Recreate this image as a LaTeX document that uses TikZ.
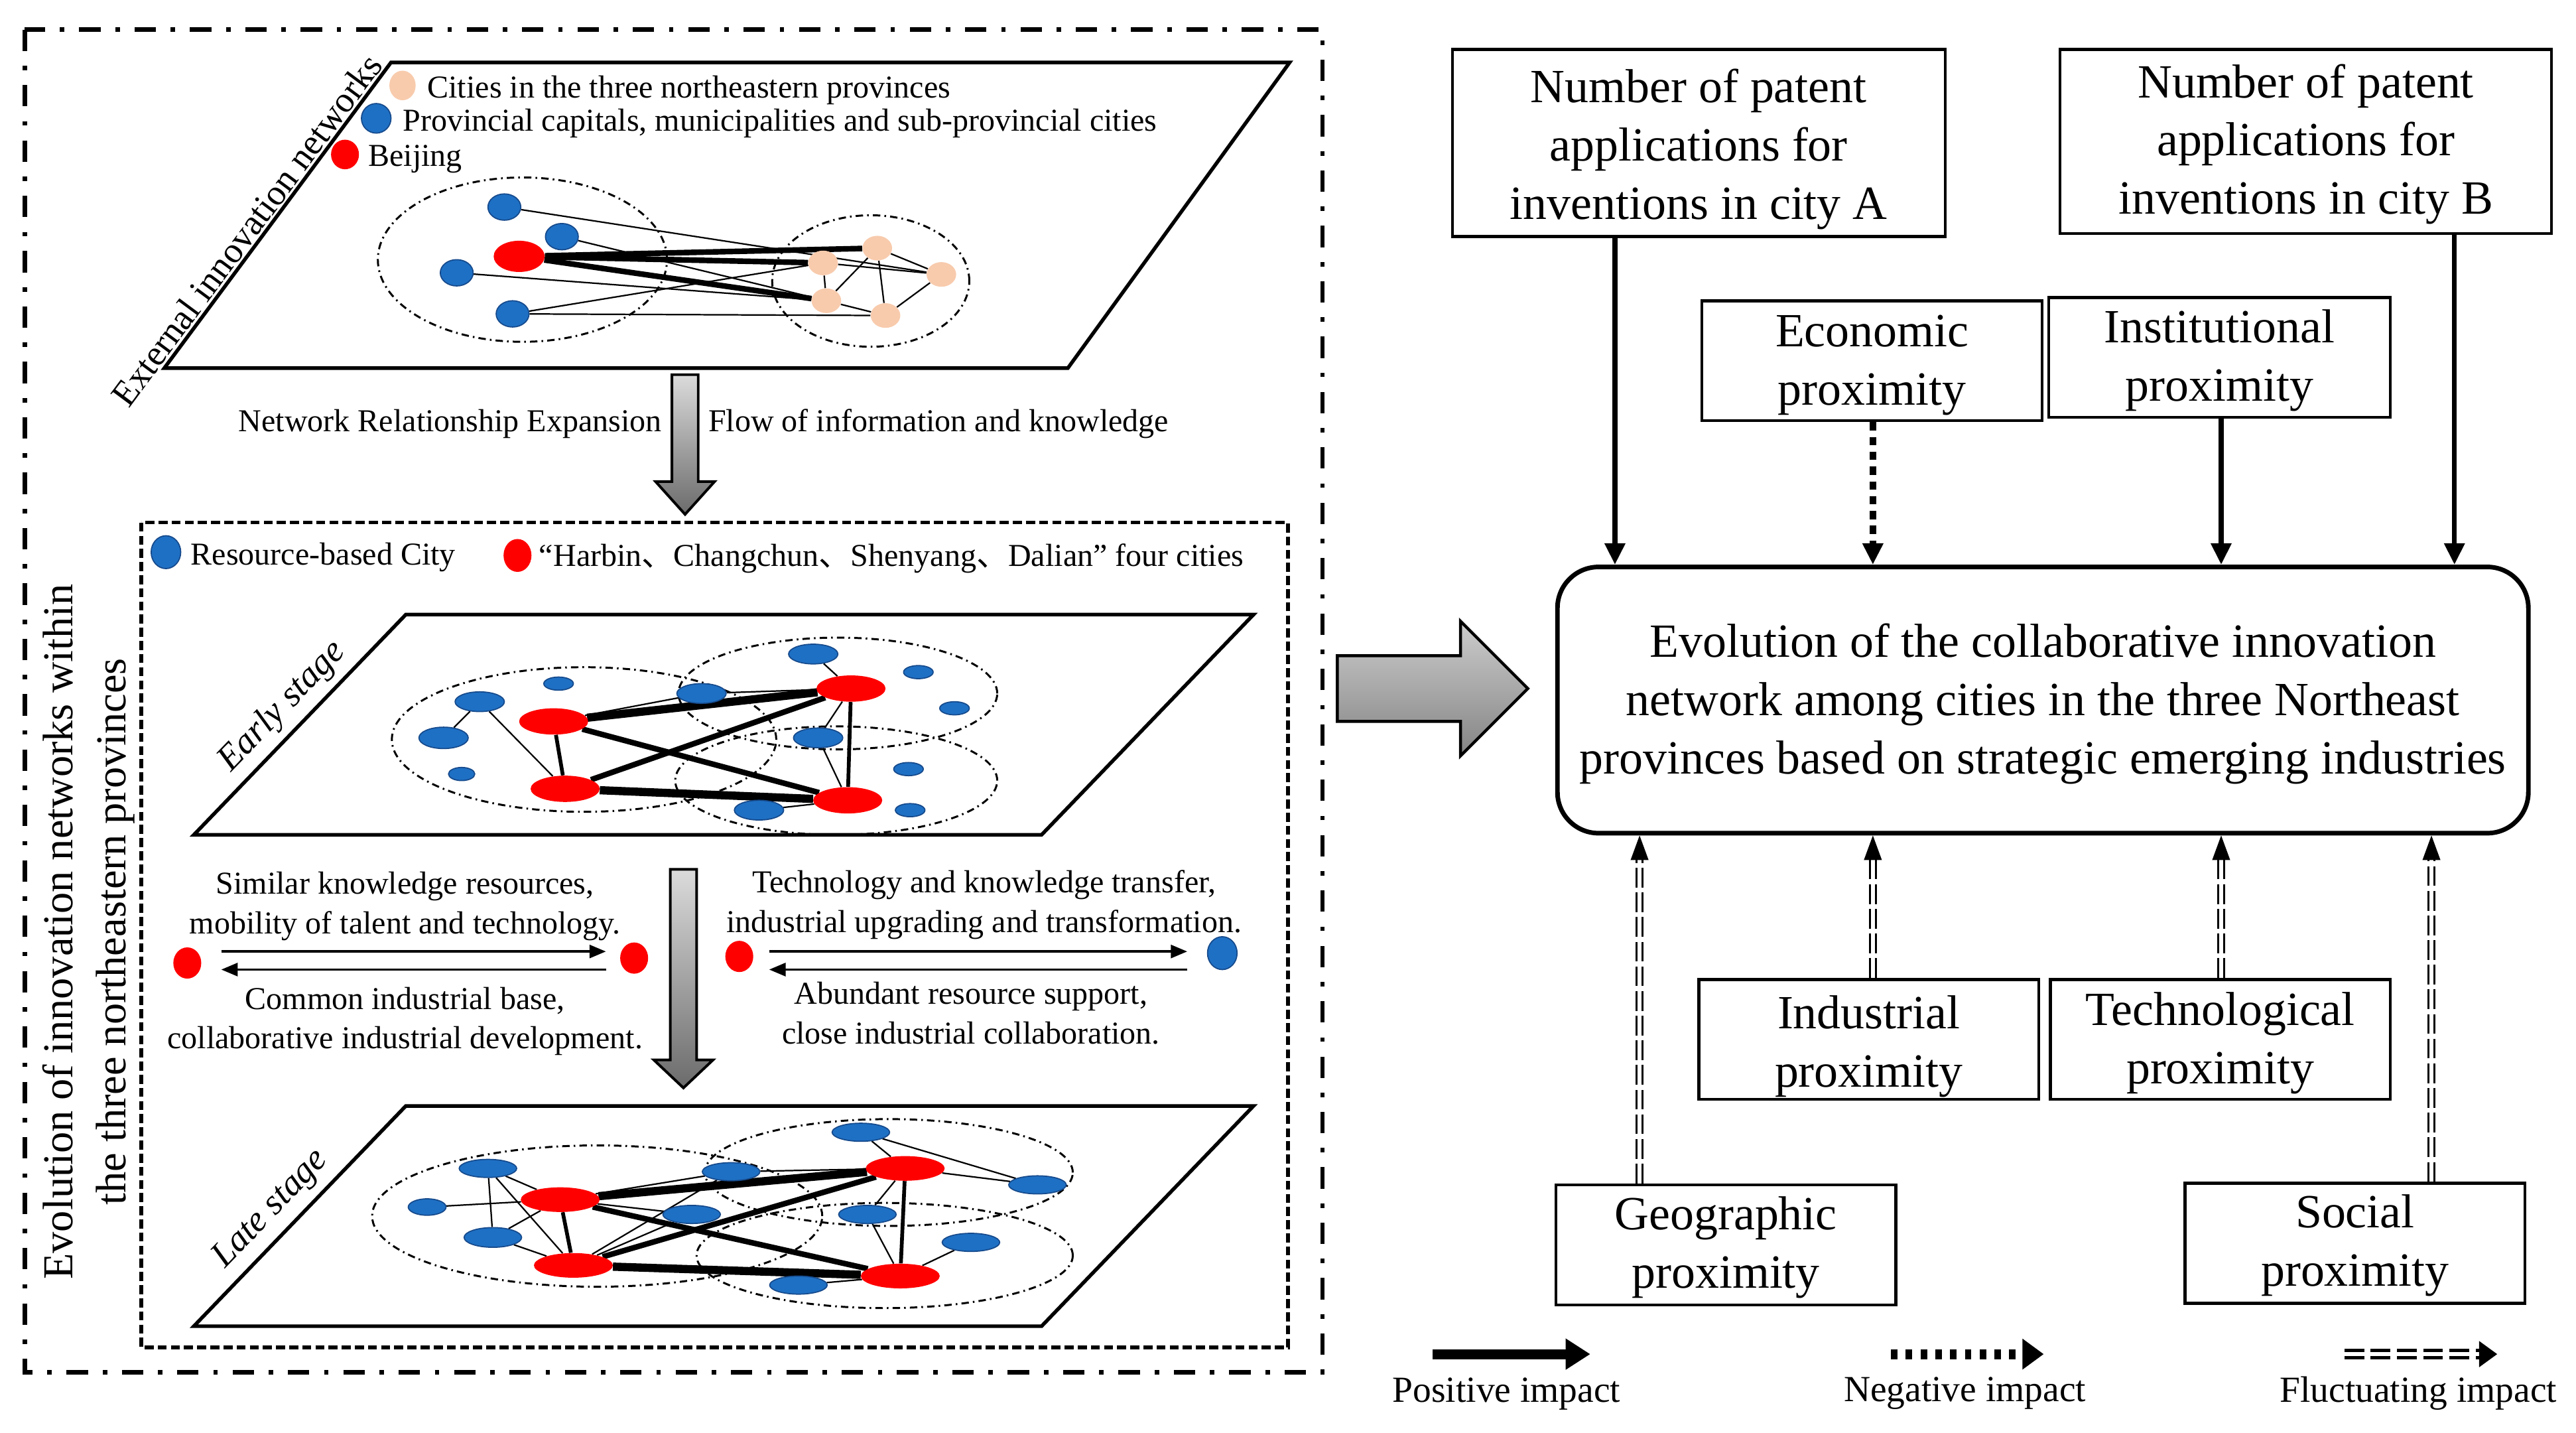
\documentclass[tikz,border=0pt]{standalone}
\usepackage{fontspec}
\setmainfont{Liberation Serif}
\newfontfamily\cjkfont{Noto Sans CJK SC}
\usetikzlibrary{shapes.geometric,arrows.meta,calc}
\pgfdeclarelayer{bg}
\pgfdeclarelayer{edges}
\pgfsetlayers{bg,edges,main}
\definecolor{nblue}{RGB}{30,112,196}
\definecolor{nblueD}{RGB}{22,74,140}
\definecolor{nred}{RGB}{255,0,0}
\definecolor{npeach}{RGB}{248,203,173}
\definecolor{glight}{gray}{0.86}
\definecolor{gdark}{gray}{0.42}
\definecolor{blight}{gray}{0.80}
\definecolor{bdark}{gray}{0.52}
\newcommand\liftby[1]{\rule{0pt}{#1}}
\begin{document}
\begin{tikzpicture}[x=1pt,y=-1pt,
 every node/.style={inner sep=0pt, font=\fontsize{19.4}{24}\selectfont},
 sz/.style 2 args={minimum width=#1, minimum height=#2},
 bnode/.style={ellipse, fill=nblue, draw=nblueD, line width=0.7pt},
 rnode/.style={ellipse, fill=nred},
 pnode/.style={ellipse, fill=npeach},
 plane/.style={draw, line width=2.2pt, line join=miter},
 ring/.style={draw, line width=1.2pt, dash pattern=on 4.5pt off 2.5pt on 1pt off 2.5pt},
 ln/.style={line width=0.9pt},
 lm/.style={line width=2.3pt},
 lk/.style={line width=3.4pt},
 lv/.style={line width=5pt},
 outerb/.style={draw, line width=2.7pt, dash pattern=on 13pt off 9pt on 2.7pt off 9pt},
 midb/.style={draw, line width=2.2pt, dash pattern=on 5.5pt off 2.5pt},
 garrow/.style={draw, line width=1.6pt, line join=miter, top color=glight, bottom color=gdark},
 bigarrow/.style={draw, line width=1.8pt, line join=miter, top color=blight, bottom color=bdark},
 biar/.style={line width=1.4pt, -{Triangle[length=10pt,width=8pt]}},
 pbox/.style={draw, line width=1.8pt, align=center, font=\fontsize{29}{35.5}\selectfont},
 posarr/.style={line width=3pt, -{Triangle[length=13pt,width=12pt]}},
 negarr/.style={line width=4pt, dash pattern=on 5pt off 4pt, -{Triangle[length=13pt,width=12pt]}},
 fluline/.style={double=white, double distance=2.6pt, line width=1.1pt, dash pattern=on 12pt off 3pt},
 fluleg/.style={double=white, double distance=2.2pt, line width=2.2pt, dash pattern=on 12pt off 4pt},
 legtxt/.style={font=\fontsize{22.4}{26}\selectfont}
]
\useasboundingbox (0,0) rectangle (1568,872);

% ---------------- frames ----------------
\begin{pgfonlayer}{bg}
\draw[outerb] (15,18) rectangle (805,835);
\draw[midb] (86,318) rectangle (784,820);
% planes
\draw[plane] (238,38) -- (785,38) -- (650,224) -- (100,224) -- cycle;
\draw[plane] (247,374) -- (763,374) -- (634,508) -- (118,508) -- cycle;
\draw[plane] (247,673) -- (763,673) -- (634,807) -- (118,807) -- cycle;
% rings
\draw[ring] (318,158) ellipse [x radius=88pt, y radius=50pt];
\draw[ring] (530,171) ellipse [x radius=60pt, y radius=40pt];
\draw[ring] (355.5,450) ellipse [x radius=117pt, y radius=44pt];
\draw[ring] (510,422) ellipse [x radius=97pt, y radius=34pt];
\draw[ring] (509,475) ellipse [x radius=98pt, y radius=33pt];
\draw[ring] (363.5,740) ellipse [x radius=137pt, y radius=43pt];
\draw[ring] (541,713.5) ellipse [x radius=112pt, y radius=32.5pt];
\draw[ring] (538.5,764) ellipse [x radius=114.5pt, y radius=32pt];
\end{pgfonlayer}

% ---------------- vertical / rotated titles ----------------
\node[rotate=90, align=center, font=\fontsize{26}{32.4}\selectfont] (vtitle) at (54,567)
  {Evolution of innovation networks within\\the three northeastern provinces};
\node[rotate=53.4, font=\fontsize{22}{26}\selectfont] (ext) at (150,140) {External innovation networks};
\node[rotate=46, font=\itshape\fontsize{22}{26}\selectfont] (early) at (172,430) {Early stage};
\node[rotate=46, font=\itshape\fontsize{22}{26}\selectfont] (late) at (165,736) {Late stage};

% ---------------- top legend ----------------
\node[pnode, sz={16pt}{18pt}] (lgp) at (245,52) {};
\node[anchor=west] (lgpt) at (260,55) {Cities in the three northeastern provinces};
\node[bnode, sz={18pt}{18pt}] (lgb) at (229,72) {};
\node[anchor=west] (lgbt) at (245,75) {Provincial capitals, municipalities and sub-provincial cities};
\node[rnode, sz={17pt}{18pt}] (lgr) at (210,94) {};
\node[anchor=west] (lgrt) at (224,97) {Beijing};

% ---------------- top network ----------------
\node[bnode, sz={20pt}{16pt}] (t1) at (307,126) {};
\node[bnode, sz={20pt}{16pt}] (t2) at (342,144) {};
\node[rnode, sz={31pt}{19pt}] (tr) at (316,156) {};
\node[bnode, sz={20pt}{16pt}] (t3) at (278,166) {};
\node[bnode, sz={20pt}{16pt}] (t4) at (312,191) {};
\node[pnode, sz={18pt}{15pt}] (p1) at (534,151) {};
\node[pnode, sz={18pt}{15pt}] (p2) at (501,160) {};
\node[pnode, sz={18pt}{15pt}] (p3) at (573,167) {};
\node[pnode, sz={18pt}{15pt}] (p4) at (503,183) {};
\node[pnode, sz={18pt}{15pt}] (p5) at (539,192) {};
\begin{pgfonlayer}{edges}
\draw[lk] (tr) -- (p1);
\draw[lk] (tr) -- (p2);
\draw[lk] (tr) -- (p4);
\draw[ln] (t1) -- (p3);
\draw[ln] (t2) -- (p4);
\draw[ln] (t3) -- (p4);
\draw[ln] (t4) -- (p2);
\draw[ln] (t4) -- (p5);
\draw[ln] (p2) -- (p3);
\draw[ln] (p1) -- (p3);
\draw[ln] (p1) -- (p4);
\draw[ln] (p2) -- (p4);
\draw[ln] (p1) -- (p5);
\draw[ln] (p3) -- (p5);
\draw[ln] (p4) -- (p5);
\end{pgfonlayer}

% ---------------- transition 1 ----------------
\draw[garrow] (409,228) -- (425,228) -- (425,293) -- (435,293) -- (417,313) -- (399,293) -- (409,293) -- cycle;
\node[anchor=east] (nre) at (403,258) {Network Relationship Expansion};
\node[anchor=west] (fik) at (431,258) {Flow of information and knowledge};

% ---------------- middle legend ----------------
\node[bnode, sz={18pt}{20pt}] (mgb) at (101,336) {};
\node[anchor=west] (mgbt) at (116,339) {Resource-based City};
\node[rnode, sz={17pt}{20pt}] (mgr) at (315,338) {};
\node[anchor=west] (mgrt) at (328,340) {“Harbin{\cjkfont 、}Changchun{\cjkfont 、}Shenyang{\cjkfont 、}Dalian” four cities};

% ---------------- early stage network ----------------
\node[rnode, sz={42pt}{16pt}] (E1) at (337,439) {};
\node[rnode, sz={42pt}{16pt}] (E2) at (518,419) {};
\node[rnode, sz={42pt}{16pt}] (E3) at (344,480) {};
\node[rnode, sz={42pt}{16pt}] (E4) at (516,487) {};
\node[bnode, sz={30pt}{12pt}] (eb1) at (292,427) {};
\node[bnode, sz={18pt}{8pt}] (eb2) at (340,416) {};
\node[bnode, sz={30pt}{13pt}] (eb3) at (270,449) {};
\node[bnode, sz={16pt}{8pt}] (eb4) at (281,471) {};
\node[bnode, sz={30pt}{12pt}] (eb5) at (427,422) {};
\node[bnode, sz={30pt}{12pt}] (eb6) at (495,398) {};
\node[bnode, sz={18pt}{8pt}] (eb7) at (559,409) {};
\node[bnode, sz={18pt}{8pt}] (eb8) at (581,431) {};
\node[bnode, sz={30pt}{12pt}] (eb9) at (498,449) {};
\node[bnode, sz={18pt}{8pt}] (eb10) at (553,468) {};
\node[bnode, sz={18pt}{8pt}] (eb11) at (554,493) {};
\node[bnode, sz={30pt}{12pt}] (eb12) at (462,493) {};
\begin{pgfonlayer}{edges}
\draw[lv] (E1) -- (E2);
\draw[lv] (E3) -- (E4);
\draw[lk] (E1) -- (E4);
\draw[lk] (E3) -- (E2);
\draw[lm] (E1) -- (E3);
\draw[lm] (E2) -- (E4);
\draw[ln] (eb1) -- (eb3);
\draw[ln] (eb1) -- (E3);
\draw[ln] (E1) -- (eb5);
\draw[ln] (eb5) -- (E2);
\draw[ln] (eb6) -- (E2);
\draw[ln] (E2) -- (eb9);
\draw[ln] (eb9) -- (E4);
\draw[ln] (eb12) -- (E4);
\end{pgfonlayer}

% ---------------- middle texts ----------------
\node[align=center] (sim) at (246.5,551.5) {Similar knowledge resources,\\mobility of talent and technology.};
\node[align=center] (com) at (246.5,621.5) {Common industrial base,\\collaborative industrial development.};
\node[align=center] (tec2) at (599,550.5) {Technology and knowledge transfer,\\industrial upgrading and transformation.};
\node[align=center] (abu) at (591,616.5) {Abundant resource support,\\close industrial collaboration.};
\node[rnode, sz={17pt}{19pt}] (d1) at (114,586) {};
\node[rnode, sz={17pt}{19pt}] (d2) at (386,583) {};
\node[rnode, sz={17pt}{19pt}] (d3) at (450,582) {};
\node[bnode, sz={18pt}{20pt}] (d4) at (744,580) {};
\coordinate (r1) at (0,579);
\coordinate (r2) at (0,590);
\draw[biar, shorten <=12pt, shorten >=8.5pt] (d1.east |- r1) -- (d2.west |- r1);
\draw[biar, shorten <=8.5pt, shorten >=12pt] (d2.west |- r2) -- (d1.east |- r2);
\draw[biar, shorten <=9.5pt, shorten >=12pt] (d3.east |- r1) -- (d4.west |- r1);
\draw[biar, shorten <=12pt, shorten >=9.5pt] (d4.west |- r2) -- (d3.east |- r2);
\draw[garrow] (408,529) -- (424,529) -- (424,645) -- (434,645) -- (416,662) -- (398,645) -- (408,645) -- cycle;

% ---------------- late stage network ----------------
\node[rnode, sz={48pt}{15pt}] (L1) at (341,730) {};
\node[rnode, sz={48pt}{15pt}] (L2) at (551,711) {};
\node[rnode, sz={48pt}{15pt}] (L3) at (349,770) {};
\node[rnode, sz={48pt}{15pt}] (L4) at (548,776.5) {};
\node[bnode, sz={35pt}{11pt}] (lb1) at (297,711) {};
\node[bnode, sz={23pt}{10pt}] (lb2) at (260,734.5) {};
\node[bnode, sz={35pt}{12pt}] (lb3) at (300,753) {};
\node[bnode, sz={35pt}{11pt}] (lb4) at (445,713) {};
\node[bnode, sz={35pt}{11pt}] (lb5) at (421,739) {};
\node[bnode, sz={35pt}{11pt}] (lb6) at (524,689) {};
\node[bnode, sz={35pt}{11pt}] (lb7) at (631.5,721) {};
\node[bnode, sz={35pt}{11pt}] (lb8) at (528,739) {};
\node[bnode, sz={35pt}{11pt}] (lb9) at (591,756) {};
\node[bnode, sz={35pt}{11pt}] (lb10) at (486,782) {};
\begin{pgfonlayer}{edges}
\draw[lv] (L1) -- (L2);
\draw[lv] (L3) -- (L4);
\draw[lk] (L1) -- (L4);
\draw[lk] (L3) -- (L2);
\draw[lm] (L1) -- (L3);
\draw[lm] (L2) -- (L4);
\draw[ln] (lb1) -- (L1);
\draw[ln] (lb1) -- (lb3);
\draw[ln] (lb1) -- (L3);
\draw[ln] (lb2) -- (L1);
\draw[ln] (lb3) -- (L1);
\draw[ln] (lb3) -- (L3);
\draw[ln] (lb4) -- (L1);
\draw[ln] (lb4) -- (L2);
\draw[ln] (lb4) -- (L3);
\draw[ln] (lb5) -- (L1);
\draw[ln] (lb5) -- (L3);
\draw[ln] (lb6) -- (L2);
\draw[ln] (lb6) -- (lb7);
\draw[ln] (L2) -- (lb7);
\draw[ln] (L2) -- (lb8);
\draw[ln] (lb8) -- (L4);
\draw[ln] (lb9) -- (L4);
\draw[ln] (lb10) -- (L4);
\end{pgfonlayer}

% ---------------- big arrow ----------------
\draw[bigarrow] (814,399) -- (889,399) -- (889,378) -- (930,419) -- (889,460) -- (889,439) -- (814,439) -- cycle;

% ---------------- right side ----------------
\node[pbox, minimum width=300pt, minimum height=114pt] (pa) at (1034,87) {\liftby{28pt}Number of patent\\applications for\\inventions in city A};
\node[pbox, minimum width=299pt, minimum height=112pt] (pb) at (1403.5,86) {\liftby{24pt}Number of patent\\applications for\\inventions in city B};
\node[pbox, minimum width=207pt, minimum height=73pt] (eco) at (1139.5,219.5) {\liftby{25pt}Economic\\proximity};
\node[pbox, minimum width=208pt, minimum height=73pt] (ins) at (1351,217.5) {\liftby{24pt}Institutional\\proximity};
\node[pbox, rounded corners=25pt, line width=2.8pt, minimum width=591pt, minimum height=162pt] (cen) at (1243.5,426)
  {\liftby{25pt}Evolution of the collaborative innovation\\network among cities in the three Northeast\\provinces based on strategic emerging industries};
\node[pbox, minimum width=207pt, minimum height=73pt] (ind) at (1137.5,632.5) {\liftby{29pt}Industrial\\proximity};
\node[pbox, minimum width=207pt, minimum height=73pt] (tec) at (1351.5,632.5) {\liftby{25pt}Technological\\proximity};
\node[pbox, minimum width=207pt, minimum height=73pt] (geo) at (1050.5,757.5) {\liftby{23pt}Geographic\\proximity};
\node[pbox, minimum width=207pt, minimum height=73pt] (soc) at (1433.5,756.5) {\liftby{23pt}Social\\proximity};

\coordinate (xa) at (983,0);
\coordinate (xe) at (1140,0);
\coordinate (xn) at (1352,0);
\coordinate (xb) at (1494,0);
\coordinate (xg) at (998,0);
\coordinate (xi) at (1140,0);
\coordinate (xt) at (1352,0);
\coordinate (xs) at (1480,0);

\draw[posarr] (pa.south -| xa) -- (cen.north -| xa);
\draw[negarr] (eco.south -| xe) -- (cen.north -| xe);
\draw[posarr] (ins.south -| xn) -- (cen.north -| xn);
\draw[posarr] (pb.south -| xb) -- (cen.north -| xb);

\foreach \src/\xc in {geo/xg, ind/xi, tec/xt, soc/xs} {
  \draw[fluline, shorten >=12pt] (\src.north -| \xc) -- (cen.south -| \xc);
  \fill (cen.south -| \xc) -- ++(-5.5,15) -- ++(11,0) -- cycle;
}

% ---------------- legend ----------------
\coordinate (lp1) at (872,824);
\coordinate (lp2) at (968,824);
\coordinate (ln1) at (1151,824);
\coordinate (ln2) at (1244,824);
\coordinate (lf1) at (1427,824);
\coordinate (lf2) at (1520,824);
\draw[line width=6pt, -{Triangle[length=15pt,width=18pt]}] (lp1) -- (lp2);
\draw[line width=6pt, dash pattern=on 4pt off 5pt, -{Triangle[length=13pt,width=18pt]}] (ln1) -- (ln2);
\draw[fluleg, shorten >=10pt] (lf1) -- (lf2);
\fill (lf2) -- ++(-11,-8) -- ++(0,16) -- cycle;
\node[legtxt] (lpt) at (917,848) {Positive impact};
\node[legtxt] (lnt) at (1196,848) {Negative impact};
\node[legtxt] (lft) at (1472,848) {Fluctuating impact};
\end{tikzpicture}
\end{document}
